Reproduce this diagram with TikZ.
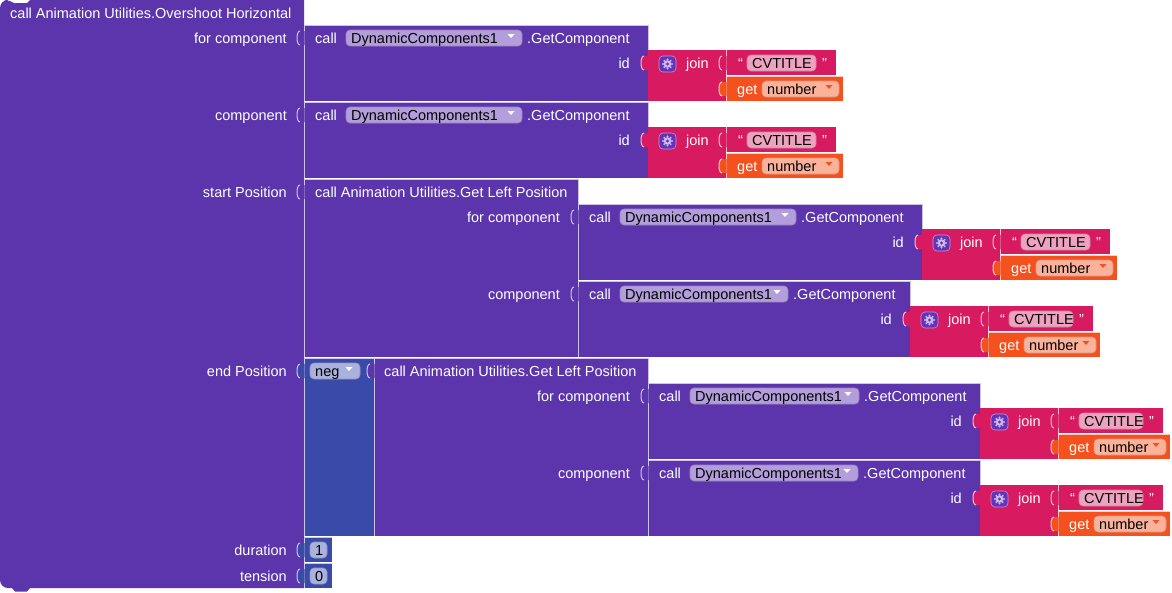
\documentclass[tikz,border=0pt]{standalone}
\usepackage{fontspec}
\setmainfont{Liberation Sans}
\usepackage{tikz}
\definecolor{procpurple}{HTML}{5C35AD}
\definecolor{mathblue}{HTML}{3A4AA9}
\definecolor{textpink}{HTML}{D81B60}
\definecolor{varorange}{HTML}{F4511E}
\definecolor{pillpurple}{HTML}{B39DDB}
\definecolor{pillpink}{HTML}{EDA2C0}
\definecolor{pillorange}{HTML}{FAB29B}
\definecolor{pillblue}{HTML}{A9B1DC}
\definecolor{gearbox}{HTML}{6532B8}
\definecolor{gearlight}{HTML}{CDBBEE}
\newcommand{\blkfont}{\fontsize{14.5}{17}\selectfont}
\newcommand{\socket}[3]{%
	\fill[#3] (#1+0.5,#2-7) -- (#1-4,#2-7) .. controls (#1-8,#2-7) and (#1-8,#2+7) .. (#1-4,#2+7) -- (#1+0.5,#2+7) -- cycle;
	\draw[rim=#3] (#1-4,#2-7) .. controls (#1-8,#2-7) and (#1-8,#2+7) .. (#1-4,#2+7);}
\newcommand{\dropmark}[3]{%
	\fill[#3] (#1-3.5,#2+4) -- (#1+3.5,#2+4) -- (#1,#2+8) -- cycle;}
\newcommand{\pill}[6]{%
	\draw[pillbox,draw=#5!85!black,fill=#5] (#2,#4) rectangle (#3,#4+16);
	\node[pilltxt,anchor=base west] (#1) at (#2+5,#4+13) {#6};}
\newcommand{\joinblk}[4]{%
	\fill[textpink] (#2,#3) rectangle (#2+78,#3+51);
	\socket{#2}{#3+13}{textpink}
	\draw[pillbox,draw=pillpurple,fill=gearbox] (#2+11,#3+6) rectangle (#2+28,#3+22);
	\fill[gearlight] (#2+19.5,#3+14) circle (3.8);
	\foreach \a in {0,45,...,315}
		\fill[gearlight] (#2+19.5,#3+14) ++(\a:4.5) circle (1.1);
	\fill[gearbox] (#2+19.5,#3+14) circle (1.6);
	\node[lbl,anchor=base west] (#1-join) at (#2+38,#3+18) {join};
	\fill[textpink] (#2+78,#3) rectangle (#2+78+#4,#3+25);
	\draw[rim=textpink] (#2+78,#3+25) -- (#2+78,#3);
	\socket{#2+78}{#3+13}{textpink}
	\node[lbl,anchor=base west] (#1-lq) at (#2+90,#3+18) {“};
	\pill{#1-str}{#2+99}{#2+58+#4}{#3+5}{pillpink}{CVTITLE}
	\node[lbl,anchor=base west] (#1-rq) at (#2+64+#4,#3+18) {”};
	\fill[varorange] (#2+78,#3+26) rectangle (#2+85+#4,#3+51);
	\draw[rim=varorange] (#2+78,#3+51) |- (#2+85+#4,#3+26);
	\socket{#2+78}{#3+39}{varorange}
	\node[lbl,anchor=base west] (#1-get) at (#2+89,#3+44) {get};
	\pill{#1-var}{#2+114}{#2+81+#4}{#3+31}{pillorange}{number}
	\dropmark{#2+71+#4}{#3+31}{varorange}}
\newcommand{\getcomp}[6]{%
	\fill[procpurple] (#2,#3) rectangle (#5,#3+76);
	\draw[rim] (#2,#3+76) |- (#5,#3) -- (#5,#3+25);
	\socket{#2}{#3+13}{procpurple}
	\node[lbl,anchor=base west] (#1-call) at (#2+11,#3+18) {call};
	\pill{#1-dc}{#2+42}{#4}{#3+5}{pillpurple}{DynamicComponents1}
	\dropmark{#4-11}{#3+5}{white}
	\node[lbl,anchor=base west] (#1-meth) at (#4+5,#3+18) {.GetComponent};
	\node[lbl,anchor=base east] (#1-id) at (#5-18,#3+43) {id};
	\joinblk{#1}{#5}{#3+25}{#6}}

\begin{document}
\begin{tikzpicture}[x=1pt,y=-1pt,
		lbl/.style={text=white,inner sep=0pt,font=\blkfont},
		pilltxt/.style={text=black,inner sep=0pt,font=\blkfont},
		pillbox/.style={rounded corners=4,line width=0.6pt},
		rim/.style={draw=white!70!#1,line width=1pt},
		rim/.default=procpurple]
		\useasboundingbox (0,0) rectangle (1172,592);
		% overshoot block
		\fill[procpurple] [rounded corners=8] (0,300) |- (12,0) [sharp corners] -- (15,3) -- (27,3) -- (30,0) -- (304,0) -- (304,588) -- (30,588) -- (27,591.5) -- (15,591.5) -- (12,588) [rounded corners=8] -| (0,300) -- cycle;
		\node[lbl,anchor=base west] (ovs-title) at (10,18) {call Animation Utilities.Overshoot Horizontal};
		\node[lbl,anchor=base east] (ovs-for) at (287,43) {for component};
		\node[lbl,anchor=base east] (ovs-comp) at (287,120) {component};
		\node[lbl,anchor=base east] (ovs-start) at (287,197) {start Position};
		\node[lbl,anchor=base east] (ovs-end) at (287,376) {end Position};
		\node[lbl,anchor=base east] (ovs-dur) at (287,555) {duration};
		\node[lbl,anchor=base east] (ovs-ten) at (287,581) {tension};
		\getcomp{A}{304}{25}{522}{648}{110}
		\getcomp{B}{304}{102}{522}{648}{110}
		% start position
		\fill[procpurple] (304,179) rectangle (578,357);
		\draw[rim] (304,357) |- (578,179) -- (578,204);
		\socket{304}{192}{procpurple}
		\node[lbl,anchor=base west] (glp-title) at (315,197) {call Animation Utilities.Get Left Position};
		\node[lbl,anchor=base east] (glp-for) at (560,222) {for component};
		\node[lbl,anchor=base east] (glp-comp) at (560,299) {component};
		\getcomp{C1}{578}{204}{796}{922}{110}
		\getcomp{C2}{578}{281}{788}{910}{105}
		% end position
		\fill[mathblue] (304,358) rectangle (374,536);
		\draw[rim=mathblue] (304,536) |- (374,358);
		\socket{304}{371}{mathblue}
		\pill{neg-op}{310}{360}{363}{pillblue}{neg}
		\dropmark{349}{363}{white}
		\fill[procpurple] (374,358) rectangle (648,536);
		\draw[rim] (374,536) |- (648,358) -- (648,383);
		\socket{374}{371}{procpurple}
		\node[lbl,anchor=base west] (glp2-title) at (384,376) {call Animation Utilities.Get Left Position};
		\node[lbl,anchor=base east] (glp2-for) at (630,401) {for component};
		\node[lbl,anchor=base east] (glp2-comp) at (630,478) {component};
		\getcomp{D1}{648}{383}{859}{980}{105}
		\getcomp{D2}{648}{460}{858}{980}{105}
		% numbers
		\fill[mathblue] (304,537) rectangle (332,562);
		\draw[rim=mathblue] (304,562) |- (332,537);
		\socket{304}{550}{mathblue}
		\pill{dur-num}{310}{327}{542}{pillblue}{1}
		\fill[mathblue] (304,563) rectangle (332,588);
		\draw[rim=mathblue] (304,588) |- (332,563);
		\socket{304}{576}{mathblue}
		\pill{ten-num}{310}{327}{568}{pillblue}{0}
		%\draw[rim] (0,588) -- (304,588);
\end{tikzpicture}
\end{document}
